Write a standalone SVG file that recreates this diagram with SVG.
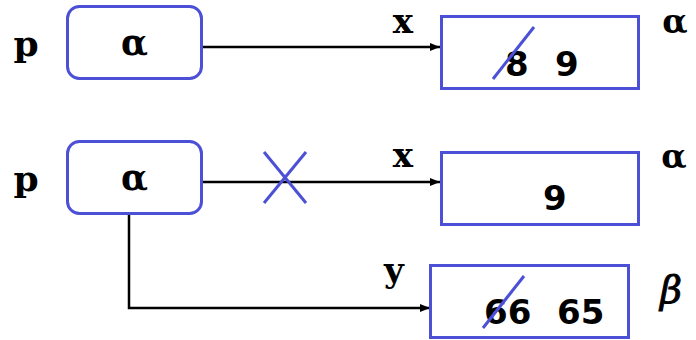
<svg xmlns="http://www.w3.org/2000/svg" width="696" height="340" viewBox="0 0 696 340">
<style>
.node{fill:#fff;stroke:#4B50D6;stroke-width:3}
.conn{stroke:#000;stroke-width:2.5;fill:none}
.strike{stroke:#4B50D6;stroke-width:3;fill:none}
.num{font-family:"DejaVu Sans",sans-serif;font-weight:bold;font-size:34px;fill:#000}
.var{font-family:"DejaVu Serif",serif;font-weight:bold;fill:#000}
.greek{font-family:"DejaVu Serif",serif;font-weight:bold;fill:#000}
</style>
<defs>
<marker id="arr" viewBox="0 0 10 8" refX="10" refY="4" markerWidth="10" markerHeight="8" markerUnits="userSpaceOnUse" orient="auto">
<path d="M0,0 L10,4 L0,8 Z" fill="#000"/>
</marker>
</defs>
<g id="connectors">
<line class="conn" x1="202" y1="47" x2="440" y2="47" marker-end="url(#arr)"/>
<line class="conn" x1="202" y1="182" x2="440" y2="182" marker-end="url(#arr)"/>
<polyline class="conn" points="129,214 129,308 430,308" marker-end="url(#arr)"/>
<line class="strike" x1="264" y1="152" x2="306" y2="203"/>
<line class="strike" x1="306" y1="152" x2="264" y2="203"/>
<text class="var" x="403" y="33" font-size="34" text-anchor="middle">x</text>
<text class="var" x="403" y="167" font-size="34" text-anchor="middle">x</text>
<text class="var" x="394" y="282" font-size="34" text-anchor="middle">y</text>
</g>
<g id="p1">
<text class="var" x="26" y="56" font-size="36" text-anchor="middle">p</text>
<rect class="node" x="67.5" y="6.5" width="134" height="72" rx="12"/>
<text class="greek" x="134.5" y="55" font-size="35" text-anchor="middle">α</text>
</g>
<g id="x1">
<rect class="node" x="441.5" y="16.5" width="197" height="72"/>
<text class="num" x="505" y="76">8</text>
<text class="num" x="555" y="76">9</text>
<line class="strike" x1="493" y1="79" x2="534" y2="27"/>
<text class="greek" x="675" y="33" font-size="33" text-anchor="middle">α</text>
</g>
<g id="p2">
<text class="var" x="26" y="191" font-size="36" text-anchor="middle">p</text>
<rect class="node" x="67.5" y="141.5" width="134" height="72" rx="12"/>
<text class="greek" x="134.5" y="190" font-size="35" text-anchor="middle">α</text>
</g>
<g id="x2">
<rect class="node" x="441.5" y="152.5" width="197" height="72"/>
<text class="num" x="543" y="210">9</text>
<text class="greek" x="674" y="168" font-size="33" text-anchor="middle">α</text>
</g>
<g id="y1">
<rect class="node" x="430.5" y="265.5" width="198" height="72"/>
<text class="num" x="484" y="324">66</text>
<text class="num" x="557" y="324">65</text>
<line class="strike" x1="483" y1="328" x2="524" y2="276"/>
<text font-family="DejaVu Serif, serif" font-style="italic" x="671" y="303" font-size="38" stroke="#000" stroke-width="0.9" text-anchor="middle">β</text>
</g>
</svg>
